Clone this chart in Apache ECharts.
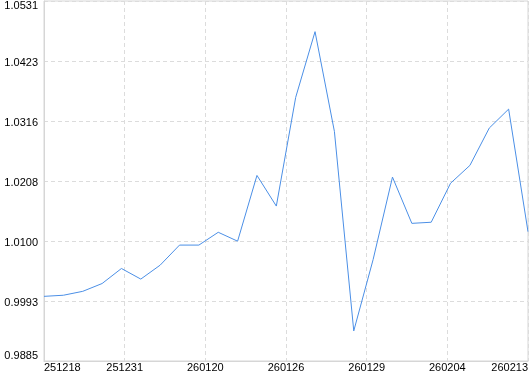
<!DOCTYPE html>
<html>
<head>
<meta charset="utf-8">
<script src="https://cdn.jsdelivr.net/npm/echarts@6/dist/echarts.min.js"></script>
<style>html,body{margin:0;padding:0;background:#fff;}#c{width:530px;height:374px;}</style>
</head>
<body>
<div id="c"></div>
<script>
var xTickLabels = ['251218', '251231', '260120', '260126', '260129', '260204', '260213'];
var values = [1.0001, 1.0003, 1.0010, 1.0024, 1.0051, 1.0032, 1.0057, 1.0093, 1.0093, 1.0116,
              1.0100, 1.0218, 1.0163, 1.0358, 1.0476, 1.0297, 0.9939, 1.0067, 1.0215, 1.0132,
              1.0134, 1.0204, 1.0236, 1.0303, 1.0337, 1.0117];
var yMin = 0.9885;
var yMax = 1.0531;
var ySteps = 6;

var n = values.length;
var xInterval = (n - 1) / (xTickLabels.length - 1);
var yInterval = (yMax - yMin) / ySteps;
var points = values.map(function (v, i) { return [i, v]; });

var chart = echarts.init(document.getElementById('c'), null, {renderer: 'canvas'});
var fontFam = 'Liberation Sans, Arial, sans-serif';
var lblStyle = {color: '#000', fontSize: 11, fontFamily: fontFam};
chart.setOption({
  animation: false,
  grid: {
    left: 44, right: 2, top: 1, bottom: 13,
    show: true, borderColor: '#d6d6d6', borderWidth: 1,
    outerBoundsMode: 'none'
  },
  xAxis: {
    type: 'value',
    min: 0, max: n - 1, interval: xInterval,
    axisLine: {show: true, lineStyle: {color: '#d6d6d6'}},
    axisTick: {show: false},
    splitLine: {show: true, lineStyle: {color: '#dcdcdc', type: [4, 3]}},
    axisLabel: {
      color: '#000', fontSize: 11, fontFamily: fontFam, margin: 1,
      alignMinLabel: 'left', alignMaxLabel: 'right',
      formatter: function (v) {
        var k = Math.round(v / xInterval);
        return xTickLabels[k] !== undefined ? xTickLabels[k] : '';
      }
    }
  },
  yAxis: {
    type: 'value',
    min: yMin, max: yMax, interval: yInterval,
    axisLine: {show: true, lineStyle: {color: '#d6d6d6'}},
    axisTick: {show: false},
    splitLine: {show: true, lineStyle: {color: '#dcdcdc', type: [4, 3]}},
    axisLabel: {
      color: '#000', fontSize: 11, fontFamily: fontFam, margin: 6,
      formatter: function (v) {
        var s = v.toFixed(4);
        if (Math.abs(v - yMax) < 1e-7) return '{t|' + s + '}';
        if (Math.abs(v - yMin) < 1e-7) return '{b|' + s + '}';
        return '{m|' + s + '}';
      },
      rich: {
        t: Object.assign({padding: [10, 0, 0, 0]}, lblStyle),
        b: Object.assign({padding: [0, 0, 10, 0]}, lblStyle),
        m: Object.assign({padding: [4, 0, 0, 0]}, lblStyle)
      }
    }
  },
  series: [{
    type: 'line',
    data: points,
    showSymbol: false,
    symbol: 'none',
    lineStyle: {color: '#4b8fe6', width: 1},
    itemStyle: {color: '#4b8fe6'}
  }]
});
</script>
</body>
</html>
